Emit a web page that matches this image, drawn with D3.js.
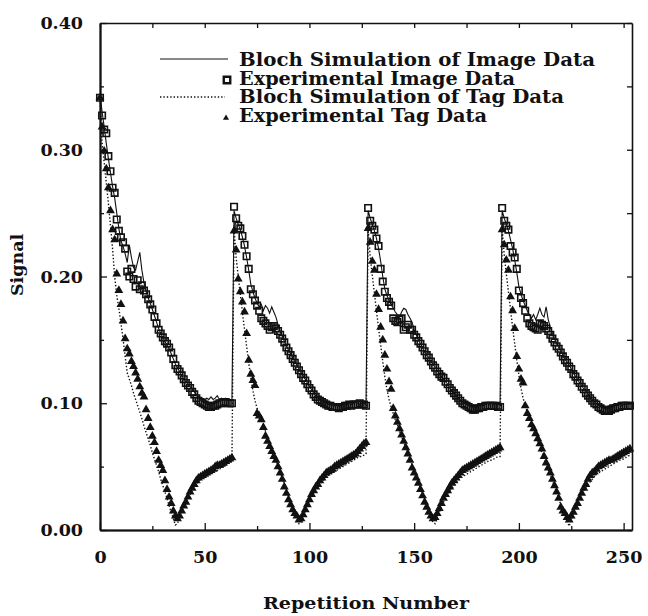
<!DOCTYPE html>
<html>
<head>
<meta charset="utf-8">
<script src="https://cdn.jsdelivr.net/npm/d3@7"></script>
<style>
  body { margin: 0; background: #fff; }
  svg { display: block; }
  text { font-family: "DejaVu Serif", serif; font-weight: bold; fill: #111; }
</style>
</head>
<body>
<div id="vis"></div>
<script>
//-- Data (one inner array per 64-repetition cycle)
var cycleStart = [0, 64, 128, 192];

var imageSim = [
  [0.343,0.330,0.318,0.305,0.293,0.282,0.271,0.262,0.250,0.238,0.228,0.224,0.218,0.211,0.225,0.215,
   0.207,0.205,0.212,0.219,0.205,0.195,0.188,0.183,0.179,0.174,0.169,0.164,0.159,0.155,0.152,0.149,
   0.146,0.143,0.139,0.135,0.131,0.128,0.125,0.122,0.119,0.117,0.115,0.113,0.111,0.109,0.107,0.105,
   0.104,0.103,0.103,0.104,0.103,0.105,0.103,0.104,0.106,0.103,0.104,0.103,0.104,0.102,0.103,0.102],
  [0.252,0.246,0.241,0.237,0.231,0.224,0.215,0.205,0.194,0.188,0.183,0.179,0.176,0.178,0.173,0.177,
   0.175,0.171,0.176,0.172,0.168,0.162,0.157,0.153,0.149,0.145,0.142,0.139,0.136,0.133,0.130,0.127,
   0.124,0.121,0.119,0.116,0.113,0.111,0.108,0.106,0.104,0.103,0.102,0.101,0.100,0.099,0.099,0.098,
   0.098,0.099,0.098,0.098,0.099,0.100,0.099,0.101,0.099,0.100,0.101,0.100,0.099,0.100,0.100,0.099],
  [0.252,0.246,0.241,0.236,0.230,0.222,0.212,0.200,0.190,0.185,0.181,0.178,0.175,0.172,0.170,0.168,
   0.172,0.175,0.174,0.170,0.167,0.164,0.158,0.154,0.150,0.147,0.144,0.141,0.138,0.136,0.133,0.131,
   0.128,0.126,0.123,0.121,0.119,0.117,0.115,0.112,0.110,0.108,0.106,0.104,0.102,0.101,0.100,0.099,
   0.098,0.098,0.097,0.098,0.097,0.098,0.099,0.098,0.099,0.100,0.099,0.100,0.099,0.100,0.099,0.099],
  [0.252,0.246,0.241,0.236,0.229,0.222,0.213,0.203,0.192,0.186,0.181,0.177,0.173,0.170,0.167,0.170,
   0.166,0.170,0.175,0.170,0.168,0.176,0.166,0.160,0.155,0.151,0.147,0.144,0.141,0.138,0.135,0.132,
   0.130,0.127,0.124,0.121,0.119,0.116,0.114,0.111,0.109,0.107,0.105,0.103,0.101,0.100,0.099,0.098,
   0.097,0.097,0.097,0.098,0.097,0.098,0.098,0.099,0.099,0.098,0.099,0.099,0.100,0.099]
];

var imageExp = [
  [0.341,0.327,0.316,0.313,0.295,0.283,0.270,0.266,0.245,0.236,0.231,0.227,0.222,0.204,0.200,0.206,
   0.198,0.192,0.197,0.190,0.193,0.189,0.186,0.182,0.178,0.174,0.168,0.163,0.158,0.155,0.152,0.149,
   0.147,0.144,0.140,0.135,0.130,0.127,0.125,0.122,0.119,0.116,0.114,0.112,0.109,0.107,0.104,0.102,
   0.101,0.100,0.099,0.098,0.097,0.097,0.098,0.098,0.099,0.100,0.100,0.101,0.101,0.100,0.100,0.100],
  [0.255,0.246,0.240,0.238,0.232,0.225,0.216,0.206,0.190,0.186,0.181,0.177,0.173,0.167,0.165,0.163,
   0.161,0.158,0.160,0.161,0.159,0.157,0.154,0.151,0.148,0.144,0.141,0.138,0.135,0.132,0.129,0.126,
   0.123,0.120,0.118,0.115,0.112,0.110,0.107,0.105,0.103,0.102,0.101,0.100,0.099,0.098,0.098,0.097,
   0.097,0.097,0.096,0.097,0.097,0.098,0.098,0.099,0.098,0.099,0.099,0.099,0.100,0.099,0.099,0.098],
  [0.254,0.244,0.240,0.237,0.230,0.224,0.206,0.196,0.188,0.183,0.180,0.177,0.167,0.165,0.164,0.166,
   0.167,0.158,0.160,0.162,0.158,0.158,0.154,0.152,0.149,0.147,0.144,0.141,0.138,0.136,0.133,0.130,
   0.128,0.125,0.123,0.121,0.120,0.117,0.115,0.112,0.110,0.108,0.106,0.104,0.102,0.100,0.099,0.098,
   0.097,0.096,0.095,0.095,0.096,0.096,0.097,0.097,0.098,0.098,0.098,0.098,0.098,0.098,0.097,0.097],
  [0.254,0.244,0.240,0.237,0.224,0.219,0.215,0.206,0.189,0.183,0.179,0.173,0.167,0.163,0.161,0.160,
   0.159,0.158,0.163,0.162,0.161,0.159,0.157,0.154,0.151,0.148,0.145,0.143,0.140,0.137,0.134,0.132,
   0.129,0.127,0.123,0.121,0.118,0.116,0.113,0.111,0.108,0.106,0.104,0.102,0.100,0.099,0.097,0.096,
   0.095,0.094,0.094,0.094,0.095,0.096,0.096,0.097,0.097,0.098,0.098,0.098,0.098,0.098]
];

var tagSim = [
  [0.343,0.305,0.290,0.274,0.258,0.240,0.222,0.200,0.185,0.175,0.163,0.151,0.137,0.124,0.119,0.114,
   0.108,0.103,0.098,0.093,0.088,0.082,0.077,0.072,0.067,0.061,0.056,0.051,0.046,0.040,0.035,0.030,
   0.025,0.019,0.014,0.009,0.004,0.005,0.010,0.014,0.018,0.022,0.025,0.028,0.031,0.034,0.036,0.038,
   0.040,0.041,0.042,0.043,0.044,0.045,0.046,0.047,0.047,0.048,0.049,0.050,0.051,0.052,0.053,0.055],
  [0.238,0.215,0.200,0.186,0.172,0.158,0.145,0.132,0.120,0.110,0.102,0.096,0.091,0.087,0.082,0.078,
   0.073,0.069,0.064,0.059,0.055,0.050,0.046,0.041,0.037,0.032,0.027,0.023,0.018,0.014,0.009,0.005,
   0.006,0.011,0.015,0.019,0.023,0.026,0.029,0.032,0.034,0.036,0.038,0.040,0.042,0.043,0.044,0.045,
   0.046,0.047,0.048,0.049,0.050,0.051,0.052,0.053,0.054,0.055,0.056,0.057,0.058,0.058,0.059,0.060],
  [0.238,0.216,0.201,0.187,0.173,0.159,0.146,0.133,0.121,0.111,0.103,0.097,0.092,0.087,0.083,0.078,
   0.074,0.069,0.065,0.060,0.056,0.051,0.047,0.042,0.038,0.033,0.029,0.024,0.019,0.015,0.010,0.006,
   0.005,0.010,0.014,0.018,0.022,0.025,0.028,0.031,0.033,0.035,0.037,0.039,0.041,0.042,0.043,0.044,
   0.045,0.046,0.047,0.048,0.049,0.050,0.051,0.052,0.053,0.054,0.055,0.055,0.056,0.057,0.058,0.058],
  [0.238,0.217,0.202,0.188,0.174,0.160,0.147,0.134,0.122,0.112,0.104,0.098,0.093,0.088,0.084,0.079,
   0.075,0.070,0.066,0.061,0.057,0.052,0.048,0.043,0.039,0.034,0.030,0.025,0.020,0.016,0.011,0.007,
   0.003,0.008,0.013,0.017,0.021,0.025,0.028,0.031,0.034,0.036,0.038,0.040,0.042,0.044,0.045,0.046,
   0.047,0.048,0.049,0.050,0.051,0.052,0.053,0.054,0.055,0.056,0.056,0.057,0.058,0.059]
];

var tagExp = [
  [0.341,0.318,0.299,0.285,0.270,0.252,0.237,0.229,0.202,0.189,0.178,0.165,0.151,0.143,0.139,0.133,
   0.129,0.124,0.119,0.113,0.108,0.105,0.095,0.088,0.081,0.074,0.069,0.062,0.055,0.051,0.047,0.039,
   0.032,0.026,0.021,0.015,0.011,0.009,0.011,0.015,0.019,0.022,0.026,0.030,0.033,0.036,0.039,0.041,
   0.042,0.043,0.044,0.045,0.046,0.047,0.048,0.050,0.051,0.051,0.052,0.053,0.054,0.055,0.056,0.057],
  [0.236,0.221,0.198,0.188,0.180,0.172,0.155,0.134,0.123,0.118,0.114,0.092,0.090,0.087,0.081,0.074,
   0.070,0.066,0.062,0.058,0.055,0.050,0.045,0.040,0.034,0.029,0.024,0.020,0.016,0.013,0.011,0.008,
   0.009,0.012,0.016,0.020,0.024,0.028,0.031,0.034,0.036,0.039,0.041,0.043,0.045,0.046,0.047,0.048,
   0.050,0.051,0.052,0.053,0.054,0.055,0.056,0.057,0.058,0.059,0.060,0.062,0.064,0.066,0.068,0.069],
  [0.238,0.227,0.212,0.205,0.186,0.174,0.160,0.150,0.138,0.127,0.117,0.111,0.096,0.090,0.085,0.080,
   0.075,0.070,0.065,0.060,0.055,0.049,0.045,0.041,0.037,0.032,0.027,0.022,0.018,0.014,0.011,0.009,
   0.010,0.013,0.017,0.021,0.025,0.028,0.031,0.034,0.037,0.039,0.041,0.043,0.045,0.047,0.048,0.049,
   0.050,0.051,0.052,0.053,0.054,0.055,0.056,0.057,0.058,0.059,0.060,0.061,0.062,0.063,0.064,0.065],
  [0.237,0.225,0.213,0.205,0.184,0.173,0.159,0.137,0.127,0.119,0.116,0.098,0.092,0.088,0.083,0.080,
   0.076,0.072,0.068,0.064,0.058,0.053,0.049,0.045,0.040,0.035,0.030,0.025,0.018,0.015,0.013,0.010,
   0.008,0.011,0.014,0.018,0.021,0.025,0.029,0.033,0.036,0.040,0.043,0.045,0.046,0.048,0.050,0.051,
   0.052,0.053,0.054,0.055,0.055,0.056,0.057,0.058,0.059,0.060,0.061,0.062,0.063,0.064]
];

var xTicks = [0, 50, 100, 150, 200, 250];
var xMinor = [25, 75, 125, 175, 225];
var yTicks = [0, 0.1, 0.2, 0.3, 0.4];
var yMinor = [0.05, 0.15, 0.25, 0.35];
var legendLabels = ["Bloch Simulation of Image Data", "Experimental Image Data",
                    "Bloch Simulation of Tag Data", "Experimental Tag Data"];

//-- Setup
var width = 648;
var height = 616;
var plotLeft = 100, plotRight = 632, plotTop = 23, plotBottom = 530;

var svg = d3.select("#vis").append("svg")
  .attr("width", width).attr("height", height)
  .attr("viewBox", [0, 0, width, height]);

var x = d3.scaleLinear().domain([0, 254]).range([plotLeft, plotRight]);
var y = d3.scaleLinear().domain([0, 0.4]).range([plotBottom, plotTop]);

// flatten cycles into points with repetition number
function points(cycles) {
  var out = [];
  cycles.forEach(function (c, i) {
    c.forEach(function (v, j) { out.push({ rep: cycleStart[i] + j, v: v }); });
  });
  return out;
}

function styleAxis(g) {
  g.select(".domain").attr("stroke", "#111").attr("stroke-width", 1.6);
  g.selectAll(".tick line").attr("stroke", "#111").attr("stroke-width", 1.3);
  g.selectAll("text").attr("font-size", 17.5)
    .attr("font-family", "DejaVu Serif").attr("font-weight", "bold").attr("fill", "#111");
}

// axes: major + minor, ticks pointing inward
var gx = svg.append("g").attr("transform", "translate(0," + plotBottom + ")")
  .call(d3.axisBottom(x).tickValues(xTicks).tickSize(-7).tickSizeOuter(0).tickPadding(21)
    .tickFormat(d3.format("d")));
styleAxis(gx);
var gxm = svg.append("g").attr("transform", "translate(0," + plotBottom + ")")
  .call(d3.axisBottom(x).tickValues(xMinor).tickSize(-4).tickSizeOuter(0).tickFormat(""));
styleAxis(gxm);

var gy = svg.append("g").attr("transform", "translate(" + plotLeft + ",0)")
  .call(d3.axisLeft(y).tickValues(yTicks).tickSize(-7).tickSizeOuter(0).tickPadding(17)
    .tickFormat(d3.format(".2f")));
styleAxis(gy);
var gym = svg.append("g").attr("transform", "translate(" + plotLeft + ",0)")
  .call(d3.axisLeft(y).tickValues(yMinor).tickSize(-4).tickSizeOuter(0).tickFormat(""));
styleAxis(gym);

var gr = svg.append("g").attr("transform", "translate(" + plotRight + ",0)")
  .call(d3.axisRight(y).tickValues(yTicks.concat(yMinor)).tickSize(-5).tickSizeOuter(0).tickFormat(""));
styleAxis(gr);
var gt = svg.append("g").attr("transform", "translate(0," + plotTop + ")")
  .call(d3.axisTop(x).tickValues(xTicks.concat(xMinor)).tickSize(-5).tickSizeOuter(0).tickFormat(""));
styleAxis(gt);
gx.select(".domain").attr("stroke-width", 2);
gy.select(".domain").attr("stroke-width", 2);

// axis titles
svg.append("text").attr("x", (plotLeft + plotRight) / 2).attr("y", 609)
  .attr("text-anchor", "middle").attr("font-size", 17.5)
  .attr("textLength", 206).attr("lengthAdjust", "spacingAndGlyphs")
  .text("Repetition Number");
svg.append("text").attr("transform", "translate(23,265) rotate(-90)")
  .attr("text-anchor", "middle").attr("font-size", 17.5)
  .text("Signal");

//-- Series
var line = d3.line().x(function (d) { return x(d.rep); }).y(function (d) { return y(d.v); });

svg.append("path").datum(points(tagSim))
  .attr("d", line).attr("fill", "none").attr("stroke", "#111")
  .attr("stroke-width", 1.4).attr("stroke-dasharray", "1.4,2");

svg.append("path").datum(points(imageSim))
  .attr("d", line).attr("fill", "none").attr("stroke", "#111").attr("stroke-width", 1.1);

var tri = d3.symbol().type(d3.symbolTriangle).size(34);
svg.append("g").selectAll("path").data(points(tagExp)).enter()
  .append("path").attr("d", tri)
  .attr("transform", function (d) { return "translate(" + x(d.rep) + "," + y(d.v) + ")"; })
  .attr("fill", "#111");

var sq = d3.symbol().type(d3.symbolSquare).size(42);
svg.append("g").selectAll("path").data(points(imageExp)).enter()
  .append("path").attr("d", sq)
  .attr("transform", function (d) { return "translate(" + x(d.rep) + "," + y(d.v) + ")"; })
  .attr("fill", "none").attr("stroke", "#111").attr("stroke-width", 1.6);

//-- Legend
var legend = svg.append("g");
legend.append("line").attr("x1", 160).attr("x2", 228).attr("y1", 59).attr("y2", 59)
  .attr("stroke", "#111").attr("stroke-width", 1.2);
legend.append("path").attr("d", d3.symbol().type(d3.symbolSquare).size(42))
  .attr("transform", "translate(227,80)")
  .attr("fill", "none").attr("stroke", "#111").attr("stroke-width", 2.4);
legend.append("line").attr("x1", 160).attr("x2", 225).attr("y1", 97).attr("y2", 97)
  .attr("stroke", "#111").attr("stroke-width", 1.4).attr("stroke-dasharray", "1.4,2");
legend.append("path").attr("d", d3.symbol().type(d3.symbolTriangle).size(16))
  .attr("transform", "translate(226,118)").attr("fill", "#111");

var baselines = [66, 84.5, 103, 121.5];
var textWidths = [356, 276, 325, 248];
legend.selectAll("text").data(legendLabels).enter().append("text")
  .attr("x", 239).attr("y", function (d, i) { return baselines[i]; })
  .attr("font-size", 18)
  .attr("textLength", function (d, i) { return textWidths[i]; })
  .attr("lengthAdjust", "spacingAndGlyphs")
  .text(function (d) { return d; });
</script>
</body>
</html>
